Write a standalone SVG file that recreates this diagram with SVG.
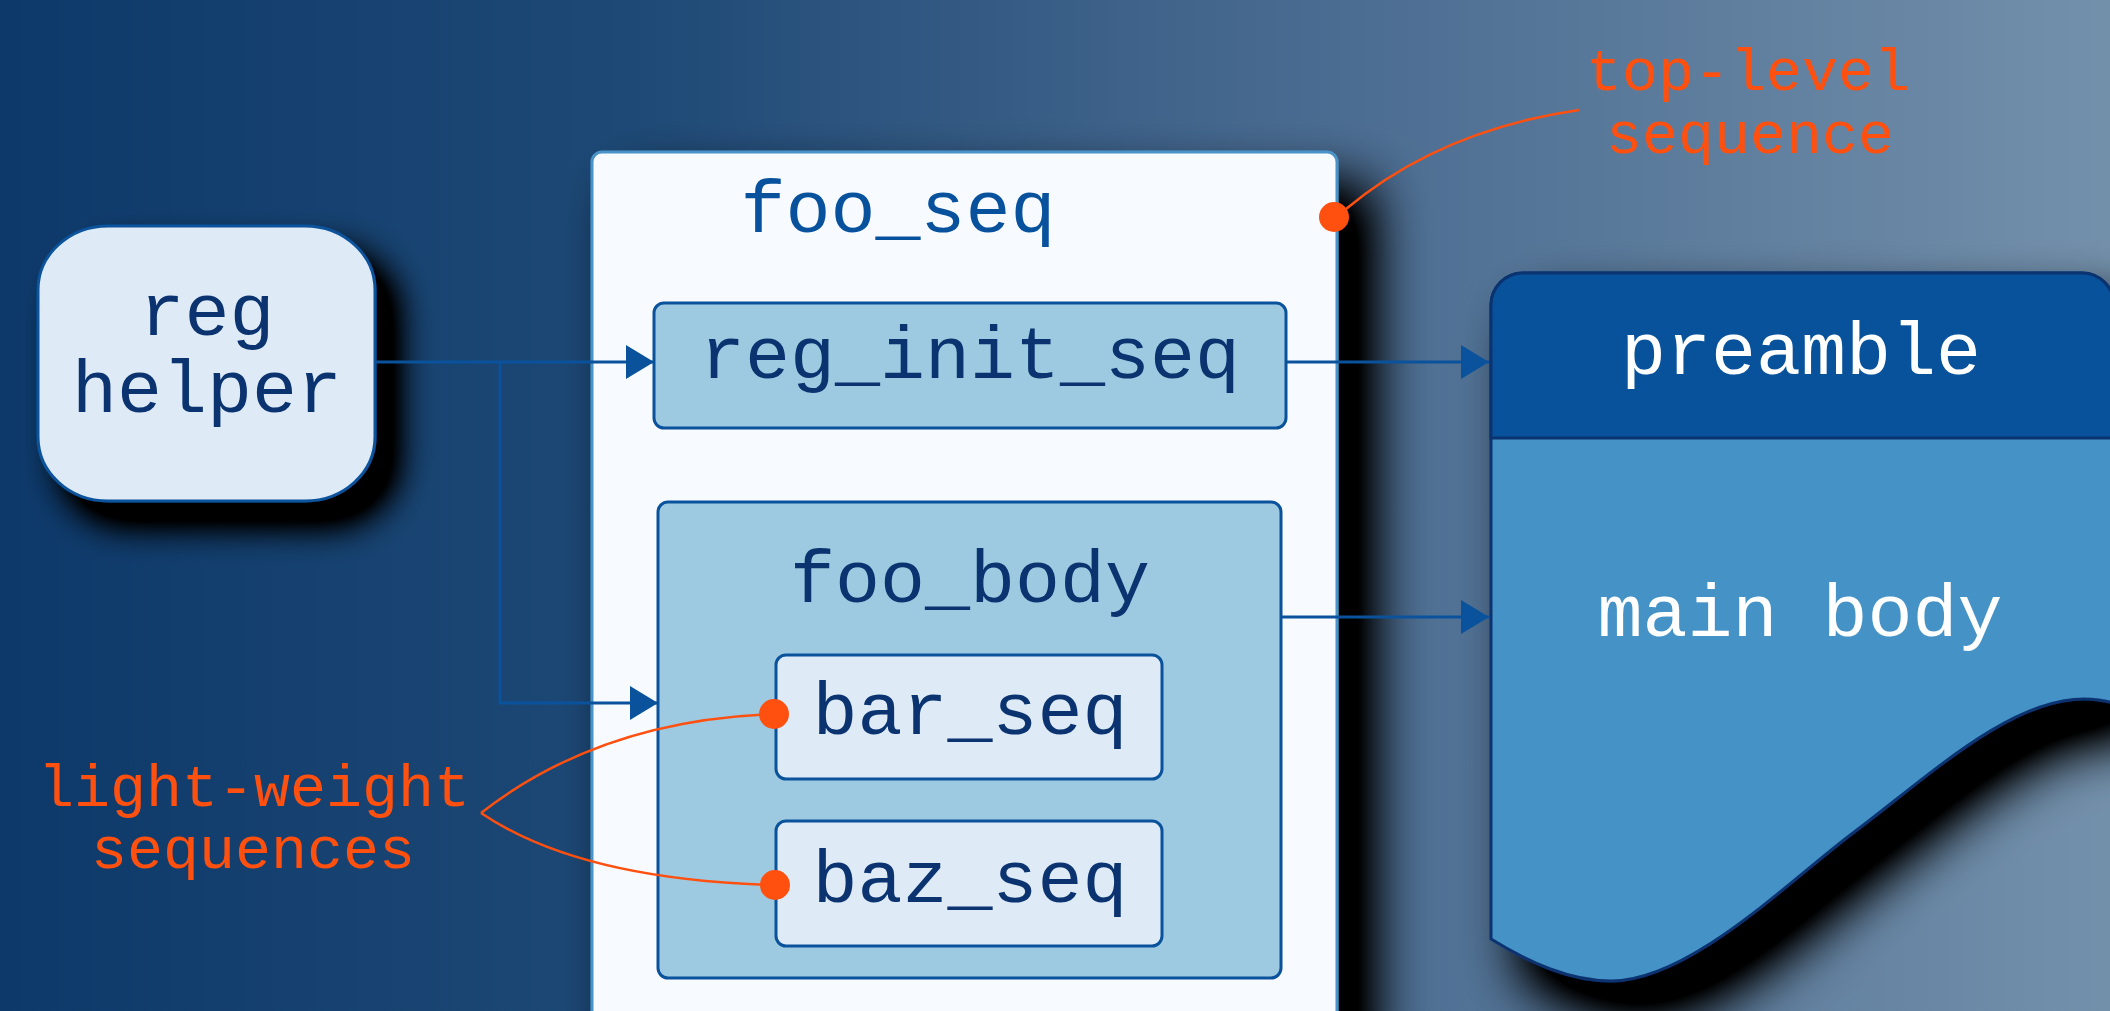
<svg xmlns="http://www.w3.org/2000/svg" width="2110" height="1011" viewBox="0 0 2110 1011">
  <defs>
    <linearGradient id="bg" x1="0" y1="0" x2="1" y2="0">
      <stop offset="0" stop-color="#0d396a"/>
      <stop offset="0.3" stop-color="#1e4976"/>
      <stop offset="0.6" stop-color="#47698f"/>
      <stop offset="1" stop-color="#7390ab"/>
    </linearGradient>
    <!-- drop shadow for the helper node -->
    <filter id="shadow" x="-40%" y="-40%" width="190%" height="190%">
      <feGaussianBlur in="SourceAlpha" stdDeviation="17"/>
      <feOffset dx="22" dy="24"/>
      <feComponentTransfer result="blur">
        <feFuncA type="linear" slope="1.6"/>
      </feComponentTransfer>
      <feFlood flood-color="#000" flood-opacity="1"/>
      <feComposite in2="blur" operator="in"/>
      <feMerge>
        <feMergeNode/>
        <feMergeNode in="SourceGraphic"/>
      </feMerge>
    </filter>
    <!-- wider, softer shadow for the large shapes -->
    <filter id="shadowBig" x="-30%" y="-30%" width="170%" height="170%">
      <feGaussianBlur in="SourceAlpha" stdDeviation="28"/>
      <feOffset dx="32" dy="36"/>
      <feComponentTransfer result="blur">
        <feFuncA type="linear" slope="1.5"/>
      </feComponentTransfer>
      <feFlood flood-color="#000" flood-opacity="1"/>
      <feComposite in2="blur" operator="in"/>
      <feMerge>
        <feMergeNode/>
        <feMergeNode in="SourceGraphic"/>
      </feMerge>
    </filter>
    <marker id="arrow" markerUnits="userSpaceOnUse" markerWidth="28" markerHeight="34" refX="28" refY="17" orient="auto">
      <path d="M0,0 L28,17 L0,34 Z" fill="#0a529c"/>
    </marker>
    <style>
      text { font-family: "Liberation Mono", "DejaVu Sans Mono", monospace; text-anchor: middle; }
      .lbl { font-size: 75px; fill: #0a3370; }
      .white { font-size: 75px; fill: #ffffff; }
      .note { font-size: 60px; fill: #ff5010; }
      .box { stroke: #0a529c; stroke-width: 3; }
      .wire { fill: none; stroke: #0a529c; stroke-width: 3; }
      .lead { fill: none; stroke: #ff5010; stroke-width: 2.5; }
      .dot { fill: #ff5010; }
    </style>
  </defs>

  <!-- backdrop -->
  <rect x="0" y="0" width="2110" height="1011" fill="url(#bg)"/>

  <!-- helper node -->
  <g id="reg-helper">
    <rect class="box" x="38" y="226" width="337" height="275" rx="70" ry="64" fill="#deebf7" filter="url(#shadow)"/>
    <text class="lbl" x="207" y="335">reg</text>
    <text class="lbl" x="207" y="412">helper</text>
  </g>

  <!-- top-level sequence container -->
  <g id="foo-seq">
    <rect x="592" y="152" width="745" height="900" rx="10" fill="#f7fbff" stroke="#4a93c8" stroke-width="3" filter="url(#shadowBig)"/>
    <text x="898" y="232" style="font-size:75px;fill:#08519c">foo_seq</text>
  </g>

  <g id="reg-init-seq">
    <rect class="box" x="654" y="303" width="632" height="125" rx="10" fill="#9ecae1"/>
    <text class="lbl" x="970" y="378">reg_init_seq</text>
  </g>

  <g id="foo-body">
    <rect class="box" x="658" y="502" width="623" height="476" rx="10" fill="#9ecae1"/>
    <text class="lbl" x="970" y="602">foo_body</text>
  </g>

  <g id="bar-seq">
    <rect class="box" x="776" y="655" width="386" height="124" rx="10" fill="#deebf7"/>
    <text class="lbl" x="970" y="734">bar_seq</text>
  </g>

  <g id="baz-seq">
    <rect class="box" x="776" y="821" width="386" height="125" rx="10" fill="#deebf7"/>
    <text class="lbl" x="970" y="902">baz_seq</text>
  </g>

  <!-- document-shaped target with header band -->
  <g id="preamble-doc">
    <path filter="url(#shadowBig)" d="M1491,939 L1491,305 A32,32 0 0 1 1523,273 L2082,273 A32,32 0 0 1 2114,305 L2114,703 C2106,701 2098,699 2084,699 C2010,699 1930,775 1853,833 C1790,880 1690,981 1611,981 C1570,981 1530,963 1491,939 Z" fill="#4492c6" stroke="#0a3370" stroke-width="3"/>
    <path d="M1491,438 L1491,305 A32,32 0 0 1 1523,273 L2082,273 A32,32 0 0 1 2114,305 L2114,438 Z" fill="#08529c" stroke="#0a3370" stroke-width="3"/>
    <text class="white" x="1801" y="374">preamble</text>
    <text class="white" x="1800" y="636">main body</text>
  </g>

  <!-- connectors -->
  <g id="connectors">
    <path class="wire" d="M375,362 L654,362" marker-end="url(#arrow)"/>
    <path class="wire" d="M500,362 L500,703 L658,703" marker-end="url(#arrow)"/>
    <path class="wire" d="M1286,362 L1489,362" marker-end="url(#arrow)"/>
    <path class="wire" d="M1281,617 L1489,617" marker-end="url(#arrow)"/>
  </g>

  <!-- annotations -->
  <g id="note-top">
    <path class="lead" d="M1346,209 Q1440,130 1579,110"/>
    <circle class="dot" cx="1334" cy="217" r="15"/>
    <text class="note" x="1748" y="90">top-level</text>
    <text class="note" x="1750" y="153">sequence</text>
  </g>

  <g id="note-light">
    <path class="lead" d="M481,813 Q600,720 774,714"/>
    <path class="lead" d="M481,813 Q580,880 775,885"/>
    <circle class="dot" cx="774" cy="714" r="15"/>
    <circle class="dot" cx="775" cy="885" r="15"/>
    <text class="note" x="254" y="806">light-weight</text>
    <text class="note" x="253" y="868">sequences</text>
  </g>
</svg>
